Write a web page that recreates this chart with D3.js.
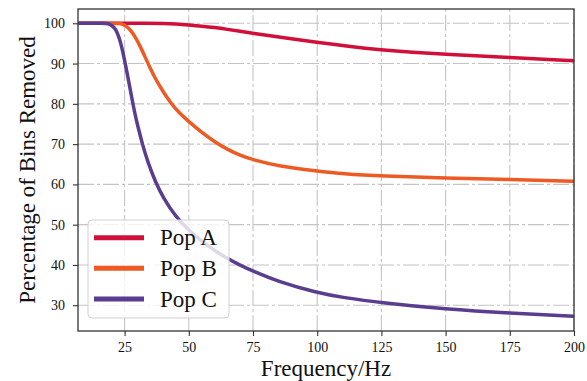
<!DOCTYPE html>
<html><head><meta charset="utf-8">
<script src="https://cdn.jsdelivr.net/npm/d3@7"></script>
<style>
body{margin:0;background:#fff;}
svg{display:block;}
text{font-family:"Liberation Serif","Times New Roman",serif;fill:#111;}
</style></head>
<body>
<script>
const freqA = [7,20,35,40,45,50,55,60,65,70,75,87,100,112,125,137,150,175,200];
const popA  = [100,100,100,99.97,99.85,99.6,99.3,98.95,98.5,98.0,97.5,96.4,95.3,94.3,93.4,92.8,92.3,91.5,90.7];
const freqB = [7,20,23,25,27,29,31,33,35,37,40,43,46,50,55,60,65,70,75,85,100,110,125,150,175,200];
const popB  = [100,100,100,99.6,98.6,96.8,94.4,91.6,88.8,86.2,83.0,80.2,77.9,75.6,72.9,70.6,68.7,67.2,66.1,64.5,63.3,62.6,62.05,61.6,61.2,60.8];
const freqC = [7,17,19,21,22,23,24,25,26,27,28,29,30,32,34,37,40,45,50,55,60,65,70,75,85,100,110,125,150,175,200];
const popC  = [100,100,99.9,99.0,97.9,96.2,93.8,90.8,87.6,84.2,80.8,77.6,74.8,69.8,65.6,60.6,56.7,51.9,48.6,45.9,43.6,41.6,39.9,38.5,35.8,33.1,31.9,30.6,29.0,28.0,27.25];
const seriesNames = ["Pop A","Pop B","Pop C"];
const colors = ["#d0103a","#ee5a24","#5a3d8e"];
const xTicks = [25,50,75,100,125,150,175,200];
const yTicks = [30,40,50,60,70,80,90,100];

const W=587,H=381;
const L=78,R=574,T=9,B=331;
const svg=d3.select("body").append("svg").attr("width",W).attr("height",H);
const x=d3.scaleLinear().domain([6.85,200]).range([L,R]);
const y=d3.scaleLinear().domain([23.6,103.55]).range([B,T]);

// grid
const grid=svg.append("g").attr("stroke","#c4c4c4").attr("stroke-width",1.1).attr("stroke-dasharray","16,3,3,3");
grid.selectAll("line.v").data(xTicks).join("line").attr("x1",d=>x(d)).attr("x2",d=>x(d)).attr("y1",B).attr("y2",T);
grid.selectAll("line.h").data(yTicks).join("line").attr("y1",d=>y(d)).attr("y2",d=>y(d)).attr("x1",L).attr("x2",R);

// lines
const data=[freqA.map((f,i)=>[f,popA[i]]),freqB.map((f,i)=>[f,popB[i]]),freqC.map((f,i)=>[f,popC[i]])];
const line=d3.line().x(d=>x(d[0])).y(d=>y(d[1])).curve(d3.curveBasis);
svg.append("defs").append("clipPath").attr("id","clip").append("rect").attr("x",L).attr("y",T).attr("width",R-L).attr("height",B-T);
svg.append("g").attr("clip-path","url(#clip)").selectAll("path").data(data).join("path")
  .attr("d",line).attr("fill","none").attr("stroke",(d,i)=>colors[i]).attr("stroke-width",3.5).attr("stroke-linecap","butt");

// axes
const xAxis=d3.axisBottom(x).tickValues(xTicks).tickSize(5).tickPadding(6).tickFormat(d3.format("d"));
const yAxis=d3.axisLeft(y).tickValues(yTicks).tickSize(5).tickPadding(8).tickFormat(d3.format("d"));
const gx=svg.append("g").attr("transform",`translate(0,${B})`).call(xAxis);
const gy=svg.append("g").attr("transform",`translate(${L},0)`).call(yAxis);
[gx,gy].forEach(g=>{
  g.select(".domain").remove();
  g.selectAll(".tick line").attr("stroke","#333").attr("stroke-width",1.1);
  g.selectAll(".tick text").style("font-family",'"Liberation Serif",serif').style("font-size","14px").attr("fill","#1a1a1a");
});
// frame
svg.append("rect").attr("x",L).attr("y",T).attr("width",R-L).attr("height",B-T).attr("fill","none").attr("stroke","#333").attr("stroke-width",1.3);

// labels
svg.append("text").attr("x",(L+R)/2).attr("y",376).attr("text-anchor","middle").style("font-size","23px").text("Frequency/Hz");
svg.append("text").attr("transform",`translate(35,${(T+B)/2}) rotate(-90)`).attr("text-anchor","middle").style("font-size","23px").text("Percentage of Bins Removed");

// legend
const lg=svg.append("g");
lg.append("rect").attr("x",88).attr("y",220).attr("width",141).attr("height",98).attr("rx",4)
  .attr("fill","#fff").attr("fill-opacity",0.8).attr("stroke","#d0d0d0").attr("stroke-width",1);
const rows=[237.7,268.3,299];
seriesNames.forEach((n,i)=>{
  lg.append("line").attr("x1",94).attr("x2",144).attr("y1",rows[i]).attr("y2",rows[i]).attr("stroke",colors[i]).attr("stroke-width",5);
  lg.append("text").attr("x",160).attr("y",rows[i]+7.5).style("font-size","23px").text(n);
});
</script>
</body></html>
